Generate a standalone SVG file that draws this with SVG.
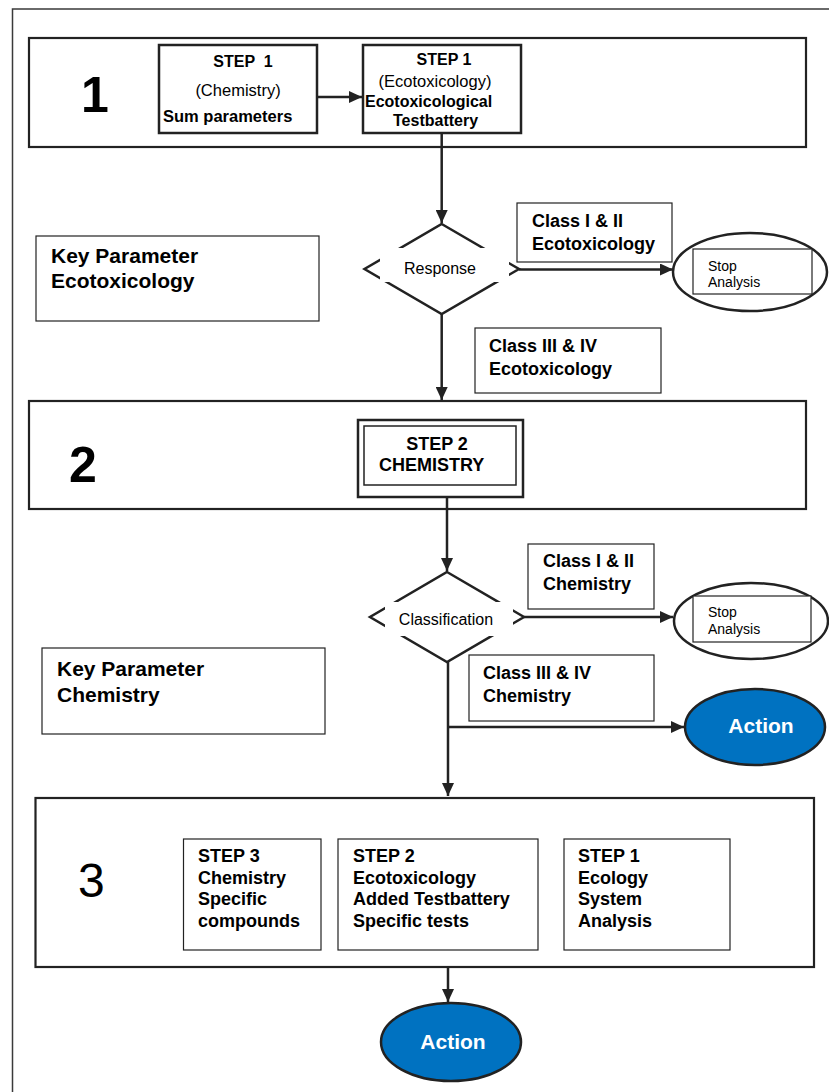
<svg xmlns="http://www.w3.org/2000/svg" width="829" height="1092" viewBox="0 0 829 1092">
<style>
  .frame { fill: none; stroke: #3a3a3a; stroke-width: 1.5; }
  .big { fill: #fff; stroke: #222; stroke-width: 2.2; }
  .box { fill: #fff; stroke: #222; stroke-width: 1.5; }
  .box2 { fill: #fff; stroke: #222; stroke-width: 2.5; }
  .lbl { fill: #fff; stroke: #222; stroke-width: 1.2; }
  .oval { fill: #fff; stroke: #222; stroke-width: 2.5; }
  .act { fill: #0072C1; stroke: #222; stroke-width: 2.5; }
  .dia { fill: #fff; stroke: #222; stroke-width: 2.5; }
  .cover { fill: #fff; stroke: none; }
  .conn { fill: none; stroke: #222; stroke-width: 2.5; }
  text { font-family: "Liberation Sans", Arial, sans-serif; fill: #000; }
  .b16 { font-size: 16px; font-weight: bold; }
  .r16 { font-size: 16.5px; }
  .b18 { font-size: 18px; font-weight: bold; }
  .b21 { font-size: 21px; font-weight: bold; }
  .r14 { font-size: 14px; }
  .num { font-size: 50px; font-weight: bold; }
  .numr { font-size: 48px; }
  .acttxt { font-size: 21px; font-weight: bold; fill: #fff; }
</style>
<defs>
  <marker id="arr" markerUnits="userSpaceOnUse" markerWidth="14" markerHeight="12" refX="13" refY="6" orient="auto">
    <path d="M0,0 L13,6 L0,12 Z" fill="#222"/>
  </marker>
</defs>

<g id="outer-frame">
  <polyline class="frame" points="12.5,1092 12.5,9 829,9"/>
</g>

<g id="stage1">
  <rect class="big" x="29" y="38" width="777" height="109"/>
  <text class="num" x="81" y="112">1</text>
</g>
<g id="step1-chemistry">
  <rect class="box2" x="159" y="45" width="158" height="88"/>
  <text class="b16" x="243" y="67" text-anchor="middle" xml:space="preserve">STEP  1</text>
  <text class="r16" x="238" y="96" text-anchor="middle">(Chemistry)</text>
  <text class="b16" x="163" y="122" style="font-size:16.5px">Sum parameters</text>
</g>
<g id="step1-ecotox">
  <rect class="box2" x="363" y="45" width="158" height="88"/>
  <text class="b16" x="444" y="65" text-anchor="middle">STEP 1</text>
  <text class="r16" x="435" y="87" text-anchor="middle">(Ecotoxicology)</text>
  <text class="b16" x="365" y="107">Ecotoxicological</text>
  <text class="b16" x="393" y="126">Testbattery</text>
</g>

<g id="key-ecotox">
  <rect class="lbl" x="36" y="236" width="283" height="85"/>
  <text class="b21" x="51" y="263">Key Parameter</text>
  <text class="b21" x="51" y="288">Ecotoxicology</text>
</g>

<g id="decision-response">
  <polygon class="dia" points="441.7,224 519,269 441.7,314 364.5,269"/>
  <rect class="cover" x="380" y="248" width="129" height="34"/>
  <text class="r16" x="440" y="274" text-anchor="middle" style="font-size:16px">Response</text>
</g>

<g id="class12-ecotox">
  <rect class="lbl" x="517" y="203" width="155" height="59"/>
  <text class="b18" x="532" y="227">Class I &amp; II</text>
  <text class="b18" x="532" y="250">Ecotoxicology</text>
</g>

<g id="stop1">
  <ellipse class="oval" cx="750" cy="272" rx="77" ry="39"/>
  <rect class="lbl" x="693" y="249" width="119" height="45"/>
  <text class="r14" x="708" y="271">Stop</text>
  <text class="r14" x="708" y="287">Analysis</text>
</g>

<g id="class34-ecotox">
  <rect class="lbl" x="475" y="328" width="186" height="65"/>
  <text class="b18" x="489" y="352">Class III &amp; IV</text>
  <text class="b18" x="489" y="375">Ecotoxicology</text>
</g>

<g id="stage2">
  <rect class="big" x="29" y="401" width="777" height="108"/>
  <text class="num" x="69" y="482">2</text>
</g>
<g id="step2-chemistry">
  <rect class="box2" x="358" y="420" width="165" height="77"/>
  <rect class="box" x="364" y="426" width="152" height="59"/>
  <text class="b18" x="437" y="450" text-anchor="middle">STEP 2</text>
  <text class="b18" x="379" y="471">CHEMISTRY</text>
</g>

<g id="decision-classification">
  <polygon class="dia" points="447,572 524,617 447,662 370,617"/>
  <rect class="cover" x="385" y="602" width="128" height="34"/>
  <text class="r16" x="446" y="625" text-anchor="middle" style="font-size:16px">Classification</text>
</g>

<g id="class12-chem">
  <rect class="lbl" x="528" y="544" width="126" height="65"/>
  <text class="b18" x="543" y="567">Class I &amp; II</text>
  <text class="b18" x="543" y="590">Chemistry</text>
</g>

<g id="stop2">
  <ellipse class="oval" cx="751" cy="621" rx="77" ry="38"/>
  <rect class="lbl" x="693" y="596" width="118" height="46"/>
  <text class="r14" x="708" y="617">Stop</text>
  <text class="r14" x="708" y="634">Analysis</text>
</g>

<g id="key-chem">
  <rect class="lbl" x="42" y="648" width="283" height="86"/>
  <text class="b21" x="57" y="676">Key Parameter</text>
  <text class="b21" x="57" y="702">Chemistry</text>
</g>

<g id="class34-chem">
  <rect class="lbl" x="469" y="655" width="185" height="66"/>
  <text class="b18" x="483" y="679">Class III &amp; IV</text>
  <text class="b18" x="483" y="702">Chemistry</text>
</g>

<g id="action1">
  <ellipse class="act" cx="755" cy="727" rx="70" ry="38"/>
  <text class="acttxt" x="761" y="733" text-anchor="middle">Action</text>
</g>

<g id="stage3">
  <rect class="big" x="35.5" y="798" width="778.5" height="169"/>
  <text class="numr" x="78" y="897">3</text>
</g>
<g id="step3-chemistry">
  <rect class="lbl" x="183.5" y="839" width="137.5" height="111"/>
  <text class="b18" x="198" y="862">STEP 3</text>
  <text class="b18" x="198" y="884">Chemistry</text>
  <text class="b18" x="198" y="905">Specific</text>
  <text class="b18" x="198" y="927">compounds</text>
</g>
<g id="step2-ecotox">
  <rect class="lbl" x="338" y="839" width="200" height="111"/>
  <text class="b18" x="353" y="862">STEP 2</text>
  <text class="b18" x="353" y="884">Ecotoxicology</text>
  <text class="b18" x="353" y="905">Added Testbattery</text>
  <text class="b18" x="353" y="927">Specific tests</text>
</g>
<g id="step1-ecology">
  <rect class="lbl" x="564" y="839" width="166" height="111"/>
  <text class="b18" x="578" y="862">STEP 1</text>
  <text class="b18" x="578" y="884">Ecology</text>
  <text class="b18" x="578" y="905">System</text>
  <text class="b18" x="578" y="927">Analysis</text>
</g>

<g id="action2">
  <ellipse class="act" cx="451" cy="1042" rx="70" ry="39"/>
  <text class="acttxt" x="453" y="1049" text-anchor="middle">Action</text>
</g>

<g id="connectors">
  <line class="conn" x1="317" y1="97" x2="362" y2="97" marker-end="url(#arr)"/>
  <line class="conn" x1="441.7" y1="133" x2="441.7" y2="223" marker-end="url(#arr)"/>
  <line class="conn" x1="519" y1="269.5" x2="673" y2="269.5" marker-end="url(#arr)"/>
  <line class="conn" x1="441.7" y1="314" x2="441.7" y2="400" marker-end="url(#arr)"/>
  <line class="conn" x1="447" y1="497" x2="447" y2="571" marker-end="url(#arr)"/>
  <line class="conn" x1="524" y1="617" x2="673" y2="617" marker-end="url(#arr)"/>
  <line class="conn" x1="448" y1="662" x2="448" y2="796" marker-end="url(#arr)"/>
  <line class="conn" x1="448" y1="727" x2="684" y2="727" marker-end="url(#arr)"/>
  <line class="conn" x1="448" y1="967" x2="448" y2="1002" marker-end="url(#arr)"/>
</g>
</svg>
